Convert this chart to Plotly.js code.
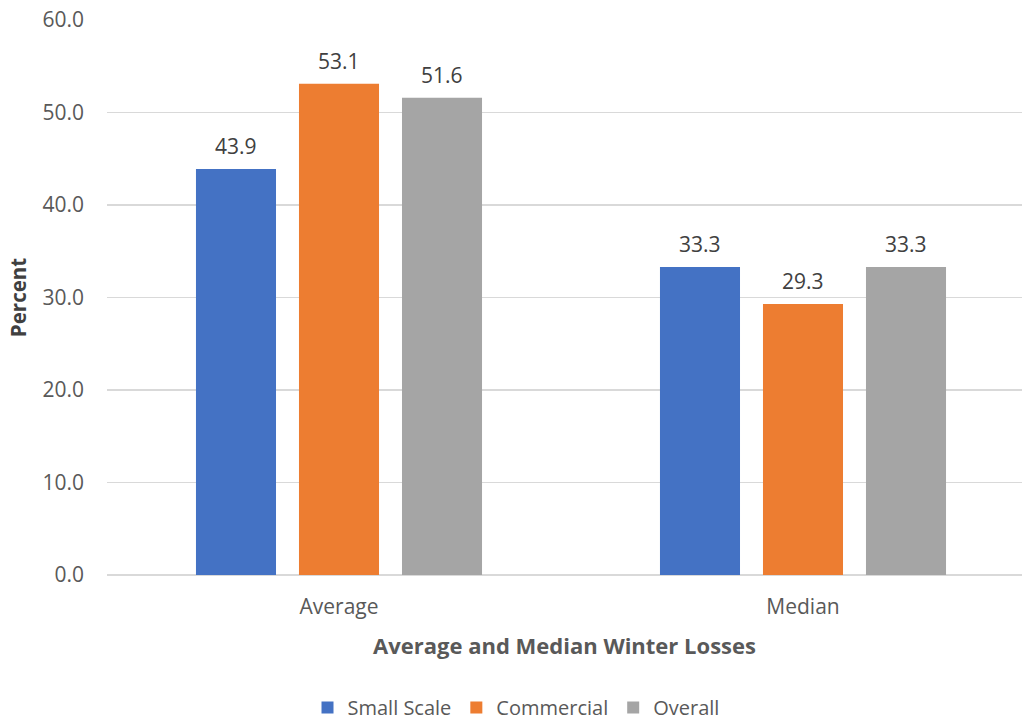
<!DOCTYPE html>
<html>
<head>
<meta charset="utf-8">
<script src="https://cdn.plot.ly/plotly-3.0.1.min.js"></script>
<style>html,body{margin:0;padding:0;background:#fff;}#chart{width:1022px;height:725px;}</style>
</head>
<body>
<div id="chart"></div>
<script>
const categories = ["Average", "Median"];
const seriesNames = ["Small Scale", "Commercial", "Overall"];
const smallScale = [43.9, 33.3];
const commercial = [53.1, 29.3];
const overall = [51.6, 33.3];
const seriesValues = [smallScale, commercial, overall];
const colors = ["#4472C4", "#ED7D31", "#A5A5A5"];
const yTickVals = [0, 10, 20, 30, 40, 50, 60];
const yTickText = ["0.0", "10.0", "20.0", "30.0", "40.0", "50.0", "60.0"];

const FONT = "Open Sans, Liberation Sans, sans-serif";
const bargap = 0.334;
const bargroupgap = 0.223;

const traces = seriesNames.map((name, j) => ({
  type: "bar",
  name: name,
  x: categories,
  y: seriesValues[j],
  marker: {color: colors[j]},
  hoverinfo: "none"
}));

// data labels as annotations, placed at each bar's center via the category scale
const slot = (1 - bargap) / seriesNames.length;
const annotations = [];
seriesValues.forEach((vals, j) => {
  vals.forEach((v, i) => {
    annotations.push({
      x: i + (j - (seriesNames.length - 1) / 2) * slot,
      y: v,
      xref: "x", yref: "y",
      text: v.toFixed(1),
      showarrow: false,
      yanchor: "bottom",
      yshift: 7,
      font: {family: FONT, size: 21, color: "#404040"}
    });
  });
});

const layout = {
  width: 1022,
  height: 725,
  margin: {l: 107, r: 0, t: 20, b: 150},
  paper_bgcolor: "#ffffff",
  plot_bgcolor: "#ffffff",
  barmode: "group",
  bargap: bargap,
  bargroupgap: bargroupgap,
  font: {family: FONT, color: "#595959"},
  showlegend: true,
  legend: {
    orientation: "h",
    x: 0.447, xanchor: "center",
    yref: "container",
    y: 0.024, yanchor: "middle",
    font: {family: FONT, size: 20, color: "#595959"},
    traceorder: "normal",
    itemwidth: 30
  },
  xaxis: {
    type: "category",
    range: [-0.5, 1.472],
    showgrid: false,
    showline: false,
    zeroline: false,
    ticks: "",
    tickfont: {family: FONT, size: 21, color: "#595959"},
    ticklabelstandoff: 17,
    title: {
      text: "<b>Average and Median Winter Losses</b>",
      font: {family: FONT, size: 22, color: "#595959"},
      standoff: 19
    },
    fixedrange: true
  },
  yaxis: {
    range: [0, 60],
    tickvals: yTickVals,
    ticktext: yTickText,
    showgrid: true,
    gridcolor: "#D9D9D9",
    gridwidth: 1.3,
    zeroline: true,
    zerolinecolor: "#D9D9D9",
    zerolinewidth: 1.3,
    showline: false,
    ticks: "",
    tickfont: {family: FONT, size: 21, color: "#595959"},
    ticklabelstandoff: 22,
    title: {
      text: "<b>Percent</b>",
      font: {family: FONT, size: 20.5, color: "#404040"},
      standoff: 10
    },
    fixedrange: true
  },
  annotations: annotations
};

Plotly.newPlot("chart", traces, layout, {displayModeBar: false, staticPlot: true});
</script>
</body>
</html>
